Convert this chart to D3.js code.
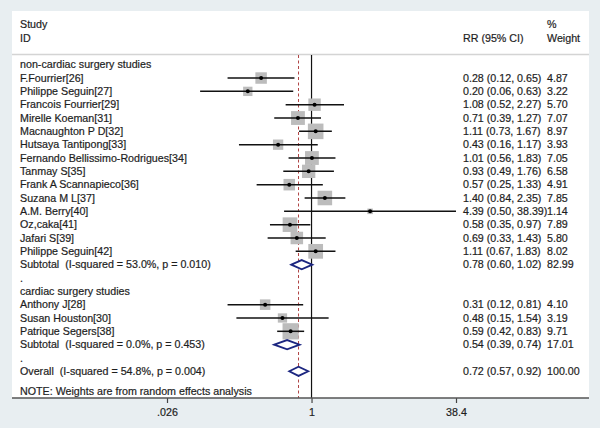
<!DOCTYPE html>
<html><head><meta charset="utf-8">
<script src="https://cdn.jsdelivr.net/npm/d3@7"></script>
<style>
html,body{margin:0;padding:0;background:#e8eef1;}
text{font-family:"Liberation Sans",Arial,sans-serif;font-size:10.7px;fill:#1e1e1e;stroke:#1e1e1e;stroke-width:0.2px;white-space:pre;}
</style></head>
<body><svg id="c" width="600" height="428"></svg>
<script>
// ---- data ----
const studyNames = ["F.Fourrier[26]","Philippe Seguin[27]","Francois Fourrier[29]","Mirelle Koeman[31]","Macnaughton P D[32]","Hutsaya Tantipong[33]","Fernando Bellissimo-Rodrigues[34]","Tanmay S[35]","Frank A Scannapieco[36]","Suzana M L[37]","A.M. Berry[40]","Oz,caka[41]","Jafari S[39]","Philippe Seguin[42]","Anthony J[28]","Susan Houston[30]","Patrique Segers[38]"];
const studyGroup = [0,0,0,0,0,0,0,0,0,0,0,0,0,0,1,1,1];
const rrValues = [0.28,0.20,1.08,0.71,1.11,0.43,1.01,0.93,0.57,1.40,4.39,0.58,0.69,1.11,0.31,0.48,0.59];
const ciLower  = [0.12,0.06,0.52,0.39,0.73,0.16,0.56,0.49,0.25,0.84,0.50,0.35,0.33,0.67,0.12,0.15,0.42];
const ciUpper  = [0.65,0.63,2.27,1.27,1.67,1.17,1.83,1.76,1.33,2.35,38.39,0.97,1.43,1.83,0.81,1.54,0.83];
const weights  = [4.87,3.22,5.70,7.07,8.97,3.93,7.05,6.58,4.91,7.85,1.14,7.89,5.80,8.02,4.10,3.19,9.71];
const groupLabels = ["non-cardiac surgery studies","cardiac surgery studies"];
const pooledLabels = ["Subtotal  (I-squared = 53.0%, p = 0.010)","Subtotal  (I-squared = 0.0%, p = 0.453)","Overall  (I-squared = 54.8%, p = 0.004)"];
const pooledRR    = [0.78,0.54,0.72];
const pooledLower = [0.60,0.39,0.57];
const pooledUpper = [1.02,0.74,0.92];
const pooledWeight= [82.99,17.01,100.00];
const tickValues = [0.026,1,38.4];
const tickLabels = [".026","1","38.4"];
const noteText = "NOTE: Weights are from random effects analysis";

// ---- layout rows ----
const rows = [];
let r = 0;
[0,1].forEach(g=>{
  rows.push({type:"group",label:groupLabels[g],row:r++});
  studyNames.forEach((n,i)=>{ if(studyGroup[i]===g) rows.push({type:"study",i,row:r++}); });
  rows.push({type:"pooled",p:g,row:r++});
  rows.push({type:"dot",row:r++});
});
rows.push({type:"pooled",p:2,row:r++});

const svg = d3.select("#c");
const x = d3.scaleLog().domain([0.026,38.4]).range([167,456]);
const y = d3.scaleLinear().domain([0,23]).range([64.7,371.3]);
const fmt = d3.format(".2f");

// panel
svg.append("rect").attr("x",12).attr("y",11).attr("width",577).attr("height",387).attr("fill","#fff");
// header
const hdr = svg.append("g");
hdr.append("text").attr("x",20).attr("y",24.5).attr("dy","0.35em").text("Study");
hdr.append("text").attr("x",20).attr("y",38.5).attr("dy","0.35em").text("ID");
hdr.append("text").attr("x",463).attr("y",38.5).attr("dy","0.35em").text("RR (95% CI)");
hdr.append("text").attr("x",547).attr("y",24.5).attr("dy","0.35em").text("%");
hdr.append("text").attr("x",547).attr("y",38.5).attr("dy","0.35em").text("Weight");
svg.append("line").attr("x1",12).attr("x2",589).attr("y1",54.5).attr("y2",54.5).attr("stroke","#d4d4d4").attr("stroke-width",1.5);

// reference lines
svg.append("line").attr("x1",x(1)).attr("x2",x(1)).attr("y1",55).attr("y2",398).attr("stroke","#111").attr("stroke-width",1.2);
svg.append("line").attr("x1",x(pooledRR[2])).attr("x2",x(pooledRR[2])).attr("y1",55).attr("y2",398)
  .attr("stroke","#b04545").attr("stroke-width",1).attr("stroke-dasharray","3,2.5");

// rows
rows.forEach(d=>{
  const yy = y(d.row);
  if(d.type==="group"){
    svg.append("text").attr("x",20).attr("y",yy).attr("dy","0.35em").text(d.label);
  } else if(d.type==="dot"){
    svg.append("text").attr("x",20).attr("y",yy).attr("dy","0.35em").text(".");
  } else if(d.type==="study"){
    const i=d.i;
    svg.append("text").attr("x",20).attr("y",yy).attr("dy","0.35em").text(studyNames[i]);
    const s = 5.2*Math.sqrt(weights[i]);
    svg.append("rect").attr("x",x(rrValues[i])-s/2).attr("y",yy-s/2).attr("width",s).attr("height",s).attr("fill","#bcbcbc");
    svg.append("line").attr("x1",x(ciLower[i])).attr("x2",x(ciUpper[i])).attr("y1",yy).attr("y2",yy).attr("stroke","#111").attr("stroke-width",1.5);
    svg.append("circle").attr("cx",x(rrValues[i])).attr("cy",yy).attr("r",2).attr("fill","#000");
    svg.append("text").attr("x",463).attr("y",yy).attr("dy","0.35em").text(`${fmt(rrValues[i])} (${fmt(ciLower[i])}, ${fmt(ciUpper[i])})`);
    svg.append("text").attr("x",547).attr("y",yy).attr("dy","0.35em").text(fmt(weights[i]));
  } else {
    const p=d.p, h=4.6;
    svg.append("text").attr("x",20).attr("y",yy).attr("dy","0.35em").text(pooledLabels[p]);
    const pts=[[x(pooledLower[p]),yy],[x(pooledRR[p]),yy-h],[x(pooledUpper[p]),yy],[x(pooledRR[p]),yy+h]];
    svg.append("path").attr("d",d3.line()(pts)+"Z").attr("fill","#fff").attr("stroke","#1c2680").attr("stroke-width",1.8);
    svg.append("text").attr("x",463).attr("y",yy).attr("dy","0.35em").text(`${fmt(pooledRR[p])} (${fmt(pooledLower[p])}, ${fmt(pooledUpper[p])})`);
    svg.append("text").attr("x",547).attr("y",yy).attr("dy","0.35em").text(fmt(pooledWeight[p]));
  }
});
svg.append("text").attr("x",20).attr("y",391).attr("dy","0.35em").text(noteText);

// axis
const axis = d3.axisBottom(x).tickValues(tickValues).tickFormat((d,i)=>tickLabels[i]).tickSize(5).tickSizeOuter(0).tickPadding(5);
const ag = svg.append("g").attr("transform","translate(0,398)").call(axis);
ag.select(".domain").remove();
ag.selectAll(".tick line").attr("stroke","#444").attr("stroke-width",1.2);
ag.selectAll(".tick text").style("font-size","10.7px").style("font-family","Liberation Sans, Arial, sans-serif").attr("fill","#1e1e1e");
svg.append("line").attr("x1",12).attr("x2",589).attr("y1",398).attr("y2",398).attr("stroke","#555").attr("stroke-width",1.5);
</script></body></html>
